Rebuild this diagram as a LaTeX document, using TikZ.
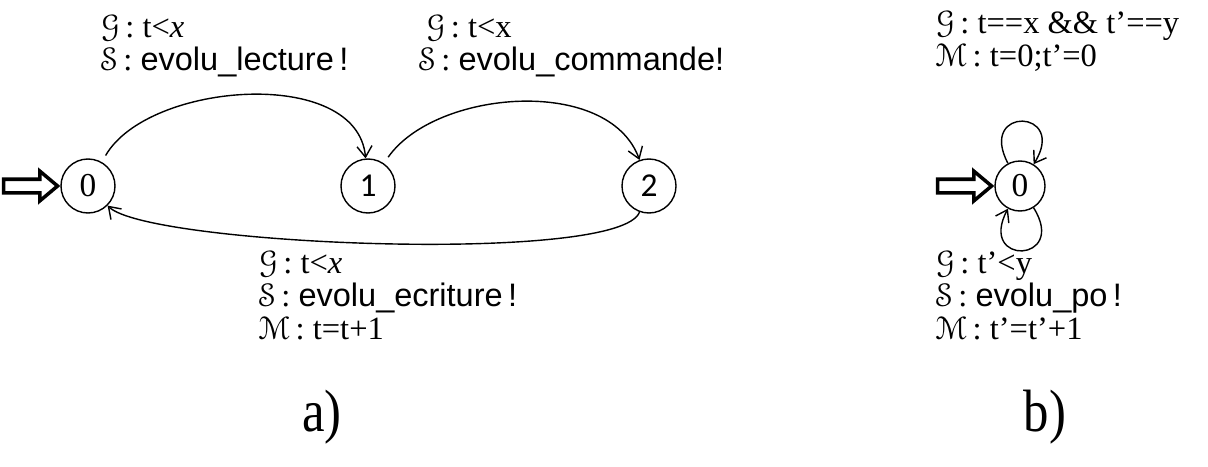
\documentclass[tikz,border=0pt]{standalone}
\usepackage{fontspec}
\setmainfont{Liberation Serif}
\setsansfont{Liberation Sans}
\newfontfamily\calibri{Carlito}
\usepackage[mathscr]{eucal}
\usetikzlibrary{arrows.meta,shapes.arrows}

\newcommand{\grd}{$\mathscr{G}$\,:\ }
\newcommand{\syn}{$\mathscr{S}$\,:\ }
\newcommand{\maj}{$\mathscr{M}$\,:\ }

\begin{document}
\begin{tikzpicture}[state/.style={circle,thick,draw,minimum size=1.08cm,inner sep=0pt,font=\fontsize{19}{20}\selectfont},
        init/.style={single arrow,draw,line width=2pt,fill=white,minimum height=1.08cm,inner sep=0.1cm,
            single arrow head extend=0.16cm,single arrow tip angle=80},
        lbl/.style={align=left,anchor=north west,inner sep=0pt,font=\fontsize{18.5}{19}\selectfont},
        tr/.style={thick,-{Straight Barb[length=0.22cm,width=0.3cm]}}]
            \useasboundingbox (0,0) rectangle (24.16,-9.32);
            % a)
            \node[state] (a0) at (1.76,-3.72) {0};
            \node[state,font=\fontsize{19}{20}\calibri] (a1) at (7.36,-3.72) {1};
            \node[state,font=\fontsize{19}{20}\calibri] (a2) at (12.98,-3.72) {2};
            \node[init,anchor=tip] (ia) at (a0.west) {};
            \path [tr] (a0) edge[out=60,in=95,looseness=0.9,shorten <=0.15cm] (a1);
            \path [tr] (a1) edge[out=55,in=110,looseness=0.9,shorten <=0.15cm] (a2);
            \path [tr] (a2) edge[out=-110,in=-45,looseness=0.27] (a0);
            \node[lbl] (la01) at (2.0,-0.28) {\grd t<\textit{x}\\ \syn\textsf{evolu\_lecture\,!}};
            \node[lbl] (la12) at (8.36,-0.28) {\hspace{0.15cm}\grd t<x\\ \syn\textsf{evolu\_commande!}};
            \node[lbl] (la20) at (5.16,-5.0) {\grd t<\textit{x}\\ \syn\textsf{evolu\_ecriture\,!}\\ \maj t=t+1};
            \node (ta) at (6.44,-8.35) {\fontsize{34}{36}\selectfont\scalebox{0.85}[1]{a)}};
            % b)
            \node[state,minimum size=1.0cm] (b0) at (20.40,-3.72) {0};
            \node[init,anchor=tip] (ib) at (b0.west) {};
            \path [tr] (b0) edge[loop,out=118,in=58,looseness=6.5,min distance=0.3cm] (b0);
            \path [tr] (b0) edge[loop,out=-58,in=-118,looseness=6.5,min distance=0.3cm] (b0);
            \node[lbl] (lbtop) at (18.70,-0.2) {\grd t==x \&\& t’==y\\ \maj t=0;t’=0};
            \node[lbl] (lbbot) at (18.70,-5.0) {\grd t’<y\\ \syn\textsf{evolu\_po\,!}\\ \maj t’=t’+1};
            \node (tb) at (20.90,-8.35) {\fontsize{34}{36}\selectfont\scalebox{0.85}[1]{b)}};
        \end{tikzpicture}
\end{document}
